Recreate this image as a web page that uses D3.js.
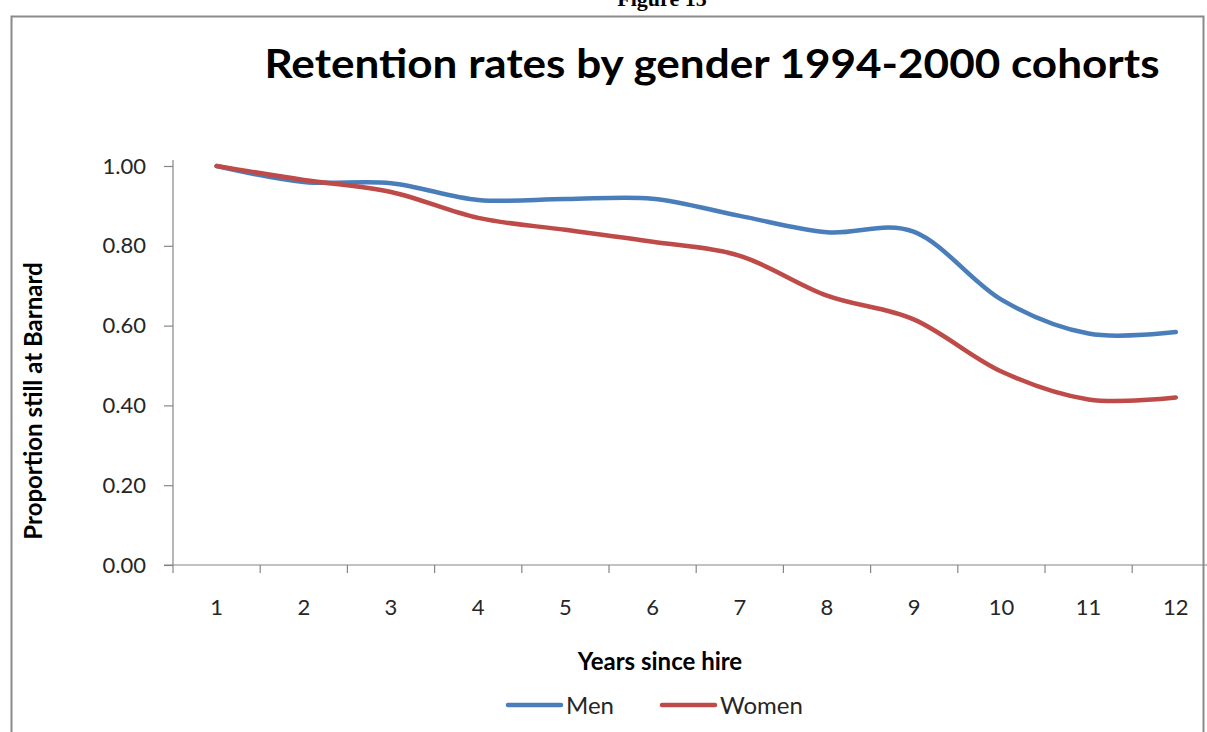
<!DOCTYPE html>
<html>
<head>
<meta charset="utf-8">
<script src="https://cdn.jsdelivr.net/npm/d3@7"></script>
<style>
  html, body { margin: 0; padding: 0; background: #fff; }
  svg { display: block; }
  text { font-family: Lato, "Open Sans", sans-serif; }
</style>
</head>
<body>
<script>
// Retention of faculty hired 1994-2000, by years since hire
const years = [1, 2, 3, 4, 5, 6, 7, 8, 9, 10, 11, 12];
const men   = [1.00, 0.96, 0.957, 0.915, 0.917, 0.918, 0.875, 0.834, 0.835, 0.665, 0.58, 0.584];
const women = [1.00, 0.965, 0.935, 0.870, 0.840, 0.810, 0.775, 0.675, 0.615, 0.485, 0.415, 0.42];
const yTicks = [0, 0.2, 0.4, 0.6, 0.8, 1.0];
const seriesNames = ["Men", "Women"];
const seriesColors = ["#4A7EBB", "#BE4B48"];

(function draw() {
  const W = 1207, H = 732;
  const svg = d3.select("body").append("svg").attr("width", W).attr("height", H);

  // Caption of the figure, cut off by the page top
  svg.append("text")
    .attr("x", 662).attr("y", 6)
    .attr("text-anchor", "middle")
    .style("font-family", "'Liberation Serif', serif")
    .style("font-weight", "bold")
    .style("font-size", "22px")
    .text("Figure 15");

  // Chart frame
  svg.append("rect")
    .attr("x", 11.5).attr("y", 16.5)
    .attr("width", 1192).attr("height", 740)
    .attr("fill", "#fff")
    .attr("stroke", "#8a8a8a").attr("stroke-width", 2);

  // Title
  svg.append("text")
    .attr("x", 712).attr("y", 78)
    .attr("text-anchor", "middle")
    .style("font-weight", "bold")
    .style("font-size", "41px")
    .attr("fill", "#000")
    .attr("textLength", 895).attr("lengthAdjust", "spacingAndGlyphs")
    .text("Retention rates by gender 1994-2000 cohorts");

  // Plot area
  const plotLeft = 173, plotTop = 166, plotBottom = 565;
  const band = 87.2;
  const plotRight = plotLeft + band * years.length;

  const x = d3.scaleBand().domain(years).range([plotLeft, plotRight]).padding(0);
  const y = d3.scaleLinear().domain([0, 1]).range([plotBottom, plotTop]);
  const axisColor = "#868686";
  const labelColor = "#262626";

  // Y axis
  const yAxis = svg.append("g")
    .attr("transform", `translate(${plotLeft},0)`)
    .call(d3.axisLeft(y).tickValues(yTicks).tickFormat(d3.format(".2f")).tickSize(9).tickPadding(18));
  yAxis.select(".domain").attr("stroke", axisColor).attr("stroke-width", 1.2)
    .attr("d", `M0,${plotTop - 6}V${plotBottom}`);
  yAxis.selectAll(".tick line").attr("stroke", axisColor).attr("stroke-width", 1.2);
  yAxis.selectAll(".tick text")
    .style("font-family", "Lato, sans-serif").style("font-size", "22px").attr("fill", labelColor);

  // X axis: ticks at category boundaries, labels centred in bands
  const xAxisG = svg.append("g").attr("transform", `translate(0,${plotBottom})`);
  xAxisG.append("line")
    .attr("x1", plotLeft - 9).attr("x2", plotRight)
    .attr("stroke", axisColor).attr("stroke-width", 1.2);
  xAxisG.selectAll("line.tk").data(years).enter().append("line")
    .attr("class", "tk")
    .attr("x1", d => x(d)).attr("x2", d => x(d))
    .attr("y1", 0).attr("y2", 8)
    .attr("stroke", axisColor).attr("stroke-width", 1.2);
  xAxisG.selectAll("text").data(years).enter().append("text")
    .attr("x", d => x(d) + x.bandwidth() / 2)
    .attr("y", 50)
    .attr("text-anchor", "middle")
    .style("font-size", "22px").attr("fill", labelColor)
    .text(d => d);

  // Axis titles
  svg.append("text")
    .attr("transform", "translate(42,401) rotate(-90)")
    .attr("text-anchor", "middle")
    .style("font-weight", "bold").style("font-size", "24px")
    .text("Proportion still at Barnard");

  svg.append("text")
    .attr("x", 660).attr("y", 670)
    .attr("text-anchor", "middle")
    .style("font-weight", "bold").style("font-size", "24px")
    .text("Years since hire");

  // Smoothed series lines
  const line = d3.line()
    .x((d, i) => x(years[i]) + x.bandwidth() / 2)
    .y(d => y(d))
    .curve(d3.curveCardinal.tension(0));

  [men, women].forEach((vals, i) => {
    svg.append("path")
      .datum(vals)
      .attr("fill", "none")
      .attr("stroke", seriesColors[i])
      .attr("stroke-width", 4.5)
      .attr("stroke-linecap", "round")
      .attr("d", line);
  });

  // Legend
  const legendX = [508, 662];
  seriesNames.forEach((name, i) => {
    const g = svg.append("g").attr("transform", `translate(${legendX[i]},705)`);
    g.append("line").attr("x1", 0).attr("x2", 53)
      .attr("stroke", seriesColors[i]).attr("stroke-width", 4.5).attr("stroke-linecap", "round");
    g.append("text").attr("x", 58).attr("y", 9)
      .style("font-size", "24px").attr("fill", labelColor).text(name);
  });
})();
</script>
</body>
</html>
